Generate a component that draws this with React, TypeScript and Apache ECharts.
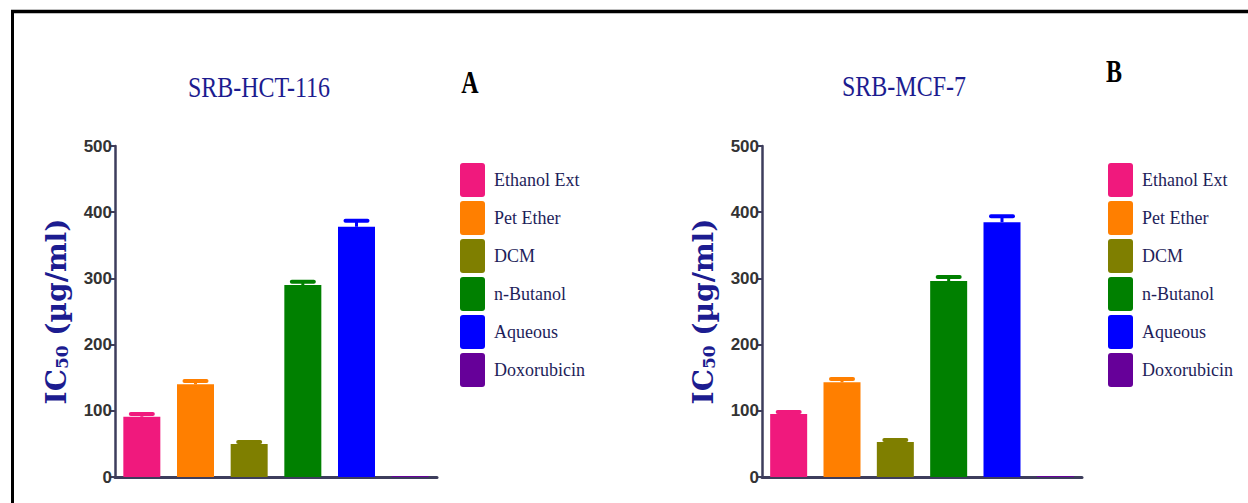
import React, { useEffect, useRef } from "react";
import * as echarts from "echarts";

const categories = ["Ethanol Ext", "Pet Ether", "DCM", "n-Butanol", "Aqueous", "Doxorubicin"];
const barColors = ["#f0197d", "#ff7f00", "#7f7f00", "#008000", "#0000ff", "#660099"];

const hctValues = [91, 140, 50, 290, 378, 1.5];
const hctErrors = [4, 5, 3, 5, 9, 0];
const mcfValues = [95, 143, 53, 296, 385, 1.5];
const mcfErrors = [3, 5, 3, 6, 9, 0];

const yMin = 0;
const yMax = 500;
const yInterval = 100;

const panelTitles = ["SRB-HCT-116", "SRB-MCF-7"];
const panelLetters = ["A", "B"];

const AXIS_COLOR = "#3d3d5c";
const NAVY = "#1c1c90";

function buildPanel(p: number, values: number[], errors: number[]) {
  const bars = categories.map((name, i) => ({
    name,
    type: "bar",
    xAxisIndex: p,
    yAxisIndex: p,
    barWidth: 37,
    barGap: "-100%",
    itemStyle: { color: barColors[i] },
    data: values.map((v, j) => (j === i ? v : "-")),
  }));
  const err = {
    type: "custom",
    xAxisIndex: p,
    yAxisIndex: p,
    z: 5,
    data: values.map((v, i) => [i, v, errors[i]]),
    renderItem: (params: any, api: any) => {
      const idx = api.value(0);
      const v = api.value(1);
      const e = api.value(2);
      if (!e) return null;
      const base = api.coord([idx, v]);
      const top = api.coord([idx, v + e]);
      const color = barColors[idx];
      return {
        type: "group",
        children: [
          {
            type: "line",
            shape: { x1: base[0], y1: base[1], x2: top[0], y2: top[1] },
            style: { stroke: color, lineWidth: 3 },
          },
          {
            type: "line",
            shape: { x1: top[0] - 11, y1: top[1], x2: top[0] + 11, y2: top[1] },
            style: { stroke: color, lineWidth: 4, lineCap: "round" },
          },
        ],
      };
    },
  };
  return [...bars, err];
}

export default function App() {
  const ref = useRef<HTMLDivElement>(null);
  useEffect(() => {
    document.body.style.margin = "0";
    const chart = echarts.init(ref.current!, null, { renderer: "svg" });
    const grids = [
      { left: 115, top: 146, width: 322, height: 331 },
      { left: 762, top: 146, width: 320, height: 331 },
    ];
    const yName = "{a|IC}{s|50}{a| (µg/ml)}";
    const option: any = {
      animation: false,
      backgroundColor: "#ffffff",
      grid: grids,
      xAxis: grids.map((_, p) => ({
        type: "category",
        gridIndex: p,
        data: categories,
        axisLine: { lineStyle: { color: AXIS_COLOR, width: 3 } },
        axisTick: { show: false },
        axisLabel: { show: false },
      })),
      yAxis: grids.map((_, p) => ({
        type: "value",
        gridIndex: p,
        min: yMin,
        max: yMax,
        interval: yInterval,
        splitLine: { show: false },
        axisLine: { show: true, lineStyle: { color: AXIS_COLOR, width: 2.5 } },
        axisTick: { show: true, length: 5, lineStyle: { color: AXIS_COLOR, width: 2 } },
        axisLabel: {
          margin: 3,
          color: "#333333",
          fontSize: 17,
          fontWeight: "bold",
          fontFamily: "'Liberation Sans Narrow', 'Liberation Sans', Arial, sans-serif",
        },
        name: yName,
        nameLocation: "middle",
        nameRotate: 90,
        nameGap: 45,
        nameTextStyle: {
          rich: {
            a: {
              fontFamily: "'DejaVu Serif', serif",
              fontWeight: "bold",
              fontSize: 28,
              color: NAVY,
            },
            s: {
              fontFamily: "'DejaVu Serif', serif",
              fontWeight: "bold",
              fontSize: 17,
              color: NAVY,
              verticalAlign: "bottom",
              padding: [8, 0, 0, 0],
            },
          },
        },
      })),
      legend: [
        { left: 455, top: 158 },
        { left: 1103, top: 158 },
      ].map((pos) => ({
        ...pos,
        orient: "vertical",
        data: categories,
        icon: "path://M3,0 H22 Q25,0 25,3 V31 Q25,34 22,34 H3 Q0,34 0,31 V3 Q0,0 3,0 Z",
        itemWidth: 25,
        itemHeight: 34,
        itemGap: 4,
        selectedMode: false,
        textStyle: {
          fontFamily: "'Liberation Serif', serif",
          fontSize: 18,
          color: "#1e1e5a",
          padding: [0, 0, 0, 4],
        },
      })),
      graphic: [
        {
          type: "line",
          shape: { x1: 11, y1: 11.5, x2: 1248, y2: 11.5 },
          style: { stroke: "#000000", lineWidth: 3.5 },
        },
        {
          type: "line",
          shape: { x1: 12.5, y1: 10, x2: 12.5, y2: 503 },
          style: { stroke: "#000000", lineWidth: 3 },
        },
        ...[
          { t: panelTitles[0], x: 259, y: 87 },
          { t: panelTitles[1], x: 904, y: 86 },
        ].map((o) => ({
          type: "text",
          x: o.x,
          y: o.y,
          scaleY: 1.25,
          style: {
            text: o.t,
            x: 0,
            y: 0,
            align: "center",
            verticalAlign: "middle",
            fontFamily: "'Liberation Serif', serif",
            fontSize: 24,
            fill: NAVY,
          },
        })),
        ...[
          { t: panelLetters[0], x: 470, y: 82 },
          { t: panelLetters[1], x: 1114, y: 71 },
        ].map((o) => ({
          type: "text",
          x: o.x,
          y: o.y,
          scaleY: 1.3,
          style: {
            text: o.t,
            x: 0,
            y: 0,
            align: "center",
            verticalAlign: "middle",
            fontFamily: "'Liberation Serif', serif",
            fontWeight: "bold",
            fontSize: 24,
            fill: "#000000",
          },
        })),
      ],
      series: [...buildPanel(0, hctValues, hctErrors), ...buildPanel(1, mcfValues, mcfErrors)],
    };
    chart.setOption(option);
    return () => chart.dispose();
  }, []);
  return <div ref={ref} style={{ width: 1248, height: 503 }} />;
}
